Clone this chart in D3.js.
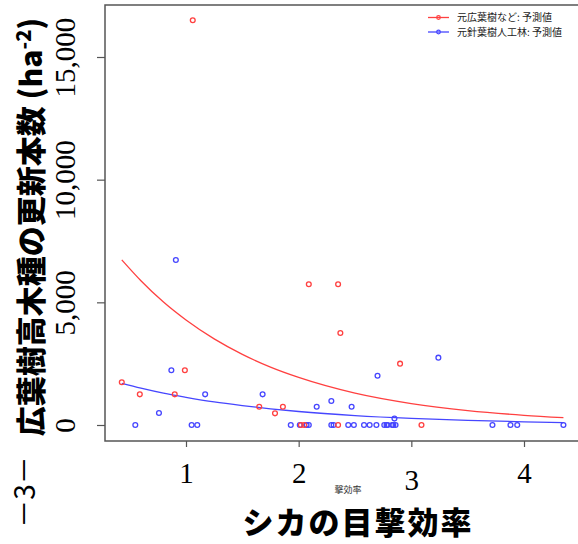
<!DOCTYPE html>
<html>
<head>
<meta charset="utf-8">
<script src="https://cdn.jsdelivr.net/npm/d3@7"></script>
<style>
  body { margin: 0; background: #fff; }
  svg { display: block; }
</style>
</head>
<body>
<svg id="chart" width="578" height="544"></svg>
<script>
// data
const xTicks = [1, 2, 3, 4]
const yTicks = [0, 5000, 10000, 15000]

// 元広葉樹など (red) observed points
const redX = [1.06, 0.43, 0.59, 0.99, 0.90, 1.65, 1.79, 1.86, 2.90, 2.02, 2.05, 2.35, 3.09, 2.09, 2.35, 2.37]
const redY = [16500, 1740, 1250, 2230, 1250, 745, 475, 745, 2500, 0, 0, 0, 0, 5735, 5735, 3750]

// 元針葉樹人工林 (blue) observed points
const blueX = [0.91, 3.24, 0.87, 1.17, 0.76, 0.55, 1.05, 1.10, 1.68, 1.93, 2.01, 2.07, 2.09,
  2.16, 2.29, 2.29, 2.31, 2.44, 2.49, 2.47, 2.58, 2.63, 2.69, 2.70,
  2.76, 2.78, 2.79, 2.83, 2.84, 2.86, 2.85, 3.72, 3.88, 3.94, 4.35]
const blueY = [6725, 2745, 2230, 1250, 490, 0, 0, 0, 1250, 0, 0, 0, 0,
  745, 980, 0, 0, 0, 0, 745, 0, 0, 0, 2010,
  0, 0, 0, 0, 0, 0, 260, 0, 0, 0, 0]

// predicted curves, values
const curveX = [0.43, 0.6, 0.8, 1.0, 1.25, 1.5, 1.75, 2.0, 2.5, 3.0, 3.5, 4.0, 4.35]
const redCurve = [6730, 5880, 5010, 4280, 3510, 2880, 2360, 1940, 1300, 875, 588, 396, 300]
const blueCurve = [1700, 1505, 1300, 1130, 940, 790, 660, 550, 385, 270, 187, 130, 100]

const legendLabels = ["元広葉樹など: 予測値", "元針葉樹人工林: 予測値"]
const colors = ["#ff4040", "#4646ff"]

const box = {left: 105, top: 5, right: 580, bottom: 441}
const svg = d3.select("#chart")

let x = d3.scaleLinear().domain([1, 4]).range([186, 524])
let y = d3.scaleLinear().domain([0, 15000]).range([425, 57])

// frame (right edge is outside the window)
svg.append("rect")
  .attr("x", box.left).attr("y", box.top)
  .attr("width", box.right - box.left).attr("height", box.bottom - box.top)
  .attr("fill", "none").attr("stroke", "#555").attr("stroke-width", 1.5)

// x axis ticks + labels
let xAxis = svg.append("g").attr("transform", "translate(0," + box.bottom + ")")
xAxis.call(d3.axisBottom(x).tickValues(xTicks).tickSize(6).tickFormat(d3.format("d")))
xAxis.select(".domain").remove()
xAxis.selectAll(".tick line").attr("stroke", "#555").attr("stroke-width", 1.2)
xAxis.selectAll(".tick text")
  .attr("font-family", "Liberation Serif, serif").attr("font-size", 29).attr("fill", "#000")
  .attr("y", 42).attr("dy", 0)
  .attr("transform", d => d === 3 ? "translate(0,7)" : null)

// y axis ticks + rotated labels
let yAxis = svg.append("g").attr("transform", "translate(" + box.left + ",0)")
yAxis.call(d3.axisLeft(y).tickValues(yTicks).tickSize(8).tickFormat(d3.format(",")))
yAxis.select(".domain").remove()
yAxis.selectAll(".tick line").attr("stroke", "#555").attr("stroke-width", 1.2)
yAxis.selectAll(".tick text")
  .attr("font-family", "Liberation Serif, serif").attr("font-size", 29).attr("fill", "#000")
  .attr("x", 0).attr("dy", 0)
  .attr("text-anchor", "middle")
  .attr("transform", "translate(-30,0) rotate(-90)")

// predicted lines
let line = d3.line().x(d => x(d[0])).y(d => y(d[1])).curve(d3.curveMonotoneX)
;[redCurve, blueCurve].forEach((vals, i) => {
  svg.append("path")
    .datum(curveX.map((cx, j) => [cx, vals[j]]))
    .attr("d", line)
    .attr("fill", "none").attr("stroke", colors[i]).attr("stroke-width", 1.3)
})

// observed points
const pts = [
  {xs: blueX, ys: blueY, c: colors[1]},
  {xs: redX, ys: redY, c: colors[0]}
]
pts.forEach(s => {
  svg.append("g").selectAll("circle")
    .data(s.xs.map((v, i) => [v, s.ys[i]]))
    .join("circle")
    .attr("cx", d => x(d[0])).attr("cy", d => y(d[1]))
    .attr("r", 2.4)
    .attr("fill", "none").attr("stroke", s.c).attr("stroke-width", 1.3)
})

// legend
let legend = svg.append("g")
legendLabels.forEach((lab, i) => {
  let ly = 17.5 + i * 14.5
  legend.append("line").attr("x1", 428).attr("x2", 449).attr("y1", ly).attr("y2", ly)
    .attr("stroke", colors[i]).attr("stroke-width", 1.3)
  legend.append("circle").attr("cx", 438.5).attr("cy", ly).attr("r", 1.8)
    .attr("fill", "none").attr("stroke", colors[i]).attr("stroke-width", 1.2)
  legend.append("text").attr("x", 457).attr("y", ly + 3.5)
    .attr("font-family", "Noto Sans CJK JP, sans-serif").attr("font-size", 10)
    .attr("fill", "#222").text(lab)
})

// axis titles
svg.append("text")
  .attr("x", 358).attr("y", 534)
  .attr("text-anchor", "middle")
  .attr("font-family", "Noto Sans CJK JP, sans-serif").attr("font-weight", 900)
  .attr("font-size", 31).attr("letter-spacing", 2)
  .text("シカの目撃効率")

svg.append("text")
  .attr("x", 348).attr("y", 493)
  .attr("text-anchor", "middle")
  .attr("font-family", "Noto Sans CJK JP, sans-serif").attr("font-size", 9)
  .attr("fill", "#333")
  .text("撃効率")

let yTitle = svg.append("text")
  .attr("transform", "translate(42,227) rotate(-90)")
  .attr("text-anchor", "middle")
  .attr("font-family", "Noto Sans CJK JP, sans-serif").attr("font-weight", 900)
  .attr("font-size", 30)
yTitle.append("tspan").text("広葉樹高木種の更新本数 (ha")
yTitle.append("tspan").attr("dy", -11).attr("font-size", 20).text("-2")
yTitle.append("tspan").attr("dy", 11).text(")")

svg.append("text")
  .attr("transform", "translate(35,492) rotate(-90)")
  .attr("text-anchor", "middle")
  .attr("font-family", "Noto Sans CJK JP, sans-serif").attr("font-size", 28)
  .text("－3－")
</script>
</body>
</html>
